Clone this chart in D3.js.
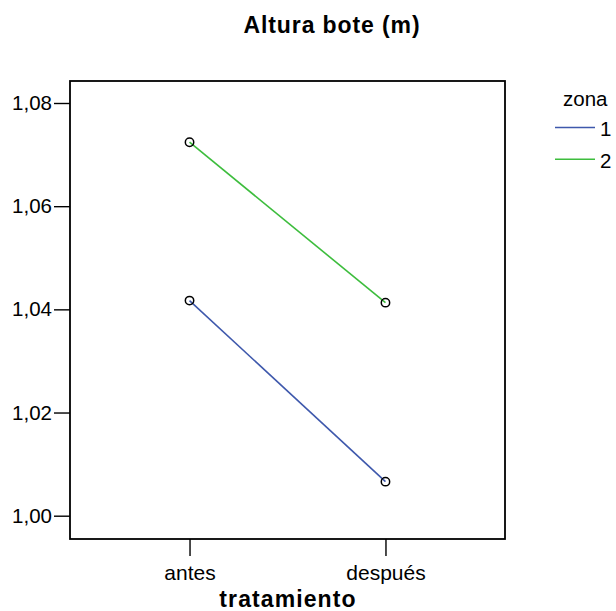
<!DOCTYPE html>
<html><head><meta charset="utf-8">
<script src="https://cdn.jsdelivr.net/npm/d3@7/dist/d3.min.js"></script>
<style>body{margin:0;background:#fff}svg{display:block;font-family:Arial,"Liberation Sans",sans-serif}</style>
</head><body>
<svg id="c" width="616" height="611"></svg>
<script>
const categories = ["antes", "después"];
const zonas = ["1", "2"];
const zona1 = [1.0417, 1.0066];
const zona2 = [1.0724, 1.0413];
const yTicks = [1.00, 1.02, 1.04, 1.06, 1.08];
const colors = ["#3e58ac", "#3dbd3d"];

const svg = d3.select("#c");
const L = 70, R = 505, T = 81, B = 539;
const x = d3.scalePoint().domain(categories).range([L, R]).padding(0.61);
const y = d3.scaleLinear().domain([1.00, 1.08]).range([515.7, 103]);

svg.append("rect").attr("x", L).attr("y", T).attr("width", R - L).attr("height", B - T)
  .attr("fill", "none").attr("stroke", "#000").attr("stroke-width", 1.8);

const fmt = v => d3.format(".2f")(v).replace(".", ",");
const yAxis = svg.append("g").attr("transform", `translate(${L},0)`)
  .call(d3.axisLeft(y).tickValues(yTicks).tickFormat(fmt).tickSize(16).tickSizeOuter(0));
yAxis.select(".domain").remove();
yAxis.selectAll("line").attr("stroke", "#000").attr("stroke-width", 1.4);
yAxis.selectAll("text").attr("font-size", 20.5).attr("fill", "#000").attr("x", -18);

const xAxis = svg.append("g").attr("transform", `translate(0,${B})`)
  .call(d3.axisBottom(x).tickSize(17).tickSizeOuter(0));
xAxis.select(".domain").remove();
xAxis.selectAll("line").attr("stroke", "#000").attr("stroke-width", 1.4);
xAxis.selectAll("text").attr("font-size", 21).attr("fill", "#000").attr("y", 26).attr("dy", "0.71em");

svg.append("text").attr("x", 332).attr("y", 33).attr("text-anchor", "middle")
  .attr("font-weight", "bold").attr("font-size", 23).attr("letter-spacing", 0.9).text("Altura bote (m)");
svg.append("text").attr("x", 288).attr("y", 607).attr("text-anchor", "middle")
  .attr("font-weight", "bold").attr("font-size", 23).attr("letter-spacing", 1.1).text("tratamiento");

const series = [zona1, zona2];
const line = d3.line().x((d, i) => x(categories[i])).y(d => y(d));
series.forEach((s, k) => {
  svg.append("path").datum(s).attr("d", line).attr("fill", "none")
    .attr("stroke", colors[k]).attr("stroke-width", 1.6);
});
series.forEach(s => {
  svg.selectAll(null).data(s).enter().append("circle")
    .attr("cx", (d, i) => x(categories[i])).attr("cy", d => y(d)).attr("r", 4.2)
    .attr("fill", "none").attr("stroke", "#000").attr("stroke-width", 1.5);
});

const lg = svg.append("g");
lg.append("text").attr("x", 563).attr("y", 106).attr("font-size", 20.5).text("zona");
zonas.forEach((z, i) => {
  const yy = 127.5 + i * 31.7;
  lg.append("line").attr("x1", 555).attr("x2", 595).attr("y1", yy).attr("y2", yy)
    .attr("stroke", colors[i]).attr("stroke-width", 1.6);
  lg.append("text").attr("x", 600).attr("y", yy + 8.5).attr("font-size", 20.5).text(z);
});
</script>
</body></html>
